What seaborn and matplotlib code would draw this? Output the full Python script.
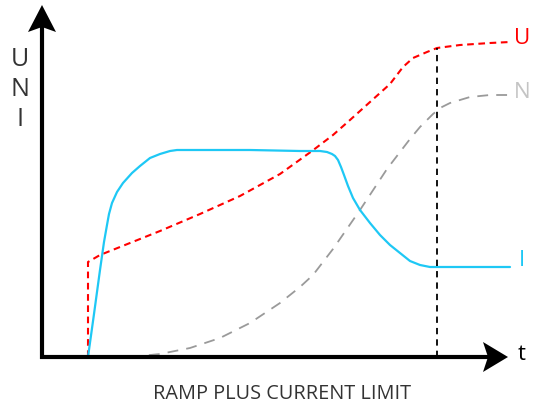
import matplotlib
matplotlib.use("Agg")
import matplotlib.pyplot as plt
from matplotlib.patches import Polygon
import seaborn as sns
import pandas as pd

# values: t (time) and level above the t axis
u_t = [46, 46, 58, 88, 118, 158, 198, 238, 270, 291, 308, 328, 348, 361, 371, 385, 395,
       418, 448, 468]
u_v = [0, 95, 102, 114, 126, 143, 161, 183, 206, 222, 237, 255, 273, 290, 299, 305, 309,
       312, 314, 315]

n_t = [88, 118, 148, 178, 208, 238, 258, 271, 291, 318, 345, 358, 368, 378, 391, 400, 408,
       428, 448, 468]
n_v = [0, 3, 9, 19, 34, 54, 70, 82, 108, 147, 188, 205, 218, 230, 243, 250, 254, 260,
       262, 262]

i_t = [46, 52, 58, 62, 65, 67, 70, 75, 81, 90, 98, 108, 118, 128, 135,
       208, 258, 278, 285, 290, 293, 296, 299, 302, 306, 311, 318, 328, 338, 348, 358,
       368, 378, 388, 396, 468]
i_v = [0, 43, 87, 115, 132, 143, 154, 165, 174, 184, 191, 199, 203, 206, 207,
       207, 206, 206, 205, 203, 201, 197, 190, 182, 171, 159, 147, 134, 122, 112, 104,
       96, 92, 90, 90, 90]

t_limit = 395
axis_labels = ["U", "N", "I"]
curve_labels = ["U", "N", "I"]
caption = "RAMP PLUS CURRENT LIMIT"

sns.set_style("white")
plt.rcParams["font.family"] = ["Open Sans", "DejaVu Sans"]

fig = plt.figure(figsize=(5.39, 4.09), dpi=100)
ax = fig.add_axes([0, 0, 1, 1])
ax.set_xlim(-42, 497)
ax.set_ylim(-52, 357)
ax.axis("off")

df_u = pd.DataFrame({"t": u_t, "v": u_v})
df_n = pd.DataFrame({"t": n_t, "v": n_v})
df_i = pd.DataFrame({"t": i_t, "v": i_v})

sns.lineplot(data=df_n, x="t", y="v", ax=ax, color="#9a9a9a", lw=1.3,
             sort=False, estimator=None, linestyle=(0, (6, 4.5)))
sns.lineplot(data=df_u, x="t", y="v", ax=ax, color="#ff0000", lw=1.5,
             sort=False, estimator=None, linestyle=(0, (3.2, 2.2)))
sns.lineplot(data=df_i, x="t", y="v", ax=ax, color="#1ec8f5", lw=1.6,
             sort=False, estimator=None)

u_top = u_v[u_t.index(t_limit)]
ax.plot([t_limit, t_limit], [0, u_top], color="black", lw=1.3,
        linestyle=(0, (3.5, 2.8)))

# axes with stealth-like arrow heads
ax.plot([0, 0], [-2, 335], color="black", lw=3, solid_capstyle="butt")
ax.plot([-2, 450], [0, 0], color="black", lw=3, solid_capstyle="butt")
ax.add_patch(Polygon([(0, 352), (-14, 325), (0, 330), (14, 325)],
                     closed=True, color="black", lw=0))
ax.add_patch(Polygon([(466, 0), (441, 15), (446, 0), (441, -15)],
                     closed=True, color="black", lw=0))

# left axis labels
for k, lab in enumerate(axis_labels):
    ax.text(-22, 297 - k * 30, lab, fontsize=18, color="#333333",
            ha="center", va="center")

# curve labels
ax.text(480, 318, curve_labels[0], fontsize=16, color="#ff0000",
        ha="center", va="center")
ax.text(480, 265, curve_labels[1], fontsize=16, color="#c4c4c4",
        ha="center", va="center")
ax.text(480, 97, curve_labels[2], fontsize=16, color="#1ec8f5",
        ha="center", va="center")
ax.text(480, 3, "t", fontsize=16, color="black", ha="center", va="center")

ax.text(240, -37, caption, fontsize=14.3, color="#333333", ha="center", va="center")

fig.savefig("out.png", dpi=100)
